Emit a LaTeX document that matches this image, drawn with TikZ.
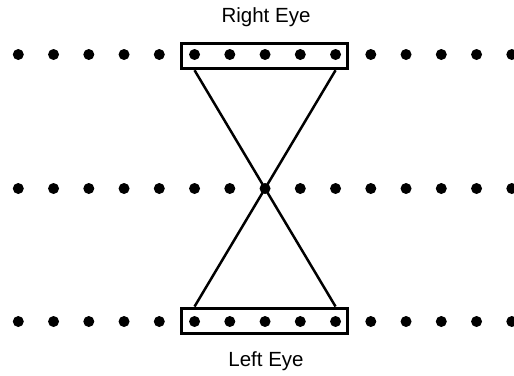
\documentclass[tikz,border=0pt]{standalone}
\usepackage{fontspec}
\setmainfont{Liberation Sans}
\begin{document}
\begin{tikzpicture}[x=1pt,y=-1pt,
  dot/.style={circle,fill=black,inner sep=0pt,minimum size=11pt},
  eyebox/.style={draw,line width=3pt,inner sep=0pt,minimum width=166pt,minimum height=25.5pt},
  ray/.style={line width=2.5pt},
  lbl/.style={font=\fontsize{20.5}{24}\selectfont,anchor=base,inner sep=0pt}]
\useasboundingbox (0,0) rectangle (514,375);
\node[eyebox] (rbox) at (264.5,56) {};
\node[eyebox] (lbox) at (264.5,320.8) {};
\foreach \r/\y in {t/54.5, m/188.5, b/321.5} {
  \foreach \i in {0,...,14} {
    \node[dot] (\r\i) at ({18.3+35.25*\i},\y) {};
  }
}
\draw[ray] (t5 |- rbox.south) -- (m7.center) -- (b9 |- lbox.north);
\draw[ray] (t9 |- rbox.south) -- (m7.center) -- (b5 |- lbox.north);
\node[lbl] (rlabel) at (266,22) {Right Eye};
\node[lbl] (llabel) at (266,366.7) {Left Eye};
\end{tikzpicture}
\end{document}
